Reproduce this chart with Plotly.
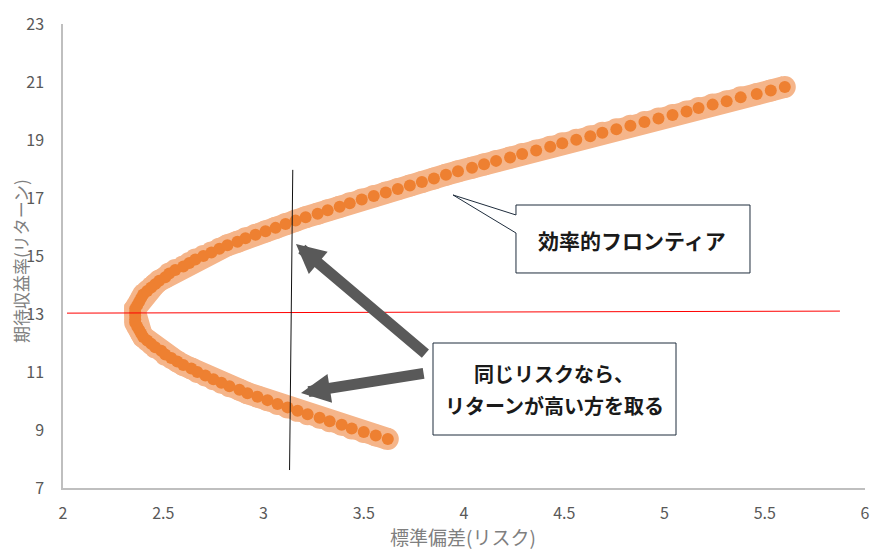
import plotly.graph_objects as go

# 効率的フロンティア（読み取り値）
risk = [3.62, 3.56, 3.50, 3.44, 3.39, 3.33, 3.28, 3.22, 3.17, 3.12,
        3.07, 3.02, 2.97, 2.92, 2.88, 2.83, 2.79, 2.75, 2.71, 2.67,
        2.64, 2.60, 2.57, 2.54, 2.51, 2.49, 2.46, 2.44, 2.42, 2.40,
        2.39, 2.38, 2.37, 2.36, 2.36, 2.36, 2.36, 2.36, 2.37, 2.38,
        2.39, 2.40, 2.42, 2.44, 2.46, 2.48, 2.51, 2.53, 2.56, 2.60,
        2.63, 2.66, 2.70, 2.74, 2.78, 2.82, 2.87, 2.91, 2.96, 3.01,
        3.06, 3.11, 3.16, 3.21, 3.27, 3.32, 3.38, 3.43, 3.49, 3.55,
        3.61, 3.67, 3.73, 3.79, 3.85, 3.91, 3.97, 4.04, 4.10, 4.16,
        4.23, 4.29, 4.36, 4.43, 4.49, 4.56, 4.63, 4.69, 4.76, 4.83,
        4.90, 4.97, 5.04, 5.11, 5.17, 5.24, 5.31, 5.38, 5.46, 5.53,
        5.60]
ret = [8.69, 8.81, 8.93, 9.05, 9.18, 9.30, 9.42, 9.54, 9.66, 9.78,
       9.90, 10.03, 10.15, 10.27, 10.39, 10.51, 10.63, 10.75, 10.88, 11.00,
       11.12, 11.24, 11.36, 11.48, 11.60, 11.73, 11.85, 11.97, 12.09, 12.21,
       12.33, 12.45, 12.57, 12.70, 12.82, 12.94, 13.06, 13.18, 13.30, 13.42,
       13.55, 13.67, 13.79, 13.91, 14.03, 14.15, 14.27, 14.40, 14.52, 14.64,
       14.76, 14.88, 15.00, 15.12, 15.25, 15.37, 15.49, 15.61, 15.73, 15.85,
       15.97, 16.10, 16.22, 16.34, 16.46, 16.58, 16.70, 16.82, 16.95, 17.07,
       17.19, 17.31, 17.43, 17.55, 17.67, 17.80, 17.92, 18.04, 18.16, 18.28,
       18.40, 18.52, 18.64, 18.77, 18.89, 19.01, 19.13, 19.25, 19.37, 19.49,
       19.62, 19.74, 19.86, 19.98, 20.10, 20.22, 20.34, 20.47, 20.59, 20.71,
       20.83]

# 補助線
hline_x = [2.02, 5.875]
hline_y = [13.03, 13.10]
vline_x = [3.146, 3.130]
vline_y = [17.97, 7.62]

# 矢印（先端, 根元）
arrow_tip = [(3.162, 15.41), (3.187, 10.28)]
arrow_tail = [(3.815, 11.59), (3.806, 10.96)]

JP = "Noto Sans CJK JP"
# ページ本文の余白8pxぶん小さくする
OFF = 8
W, H = 888 - OFF, 556 - OFF
L, R, T, B = 63 - OFF, 23, 24 - OFF, 68


def px(x, y):
    # 画面上のピクセル位置 -> paper座標
    x, y = x - OFF, y - OFF
    return (x - L) / (W - L - R), (H - B - y) / (H - T - B)


fig = go.Figure()

# 外側の薄いオレンジの帯
fig.add_trace(go.Scatter(x=risk, y=ret, mode="lines+markers",
                         line=dict(color="#F5B58A", width=22),
                         marker=dict(color="#F5B58A", size=22),
                         hoverinfo="skip", showlegend=False))
# 点
fig.add_trace(go.Scatter(x=risk, y=ret, mode="markers",
                         marker=dict(color="#EE8031", size=12),
                         showlegend=False))
fig.add_trace(go.Scatter(x=hline_x, y=hline_y, mode="lines",
                         line=dict(color="#FF0000", width=1), showlegend=False))
fig.add_trace(go.Scatter(x=vline_x, y=vline_y, mode="lines",
                         line=dict(color="#111111", width=1), showlegend=False))

for (tx, ty), (sx, sy) in zip(arrow_tip, arrow_tail):
    fig.add_annotation(x=tx, y=ty, ax=sx, ay=sy, xref="x", yref="y",
                       axref="x", ayref="y", text="", showarrow=True,
                       arrowhead=2, arrowwidth=11, arrowsize=0.53,
                       arrowcolor="#595959")

# 吹き出し
p = [px(*pt) for pt in [(516, 205), (750, 205), (750, 273), (516, 273),
                        (516, 233), (453, 195), (516, 215)]]
path = "M " + " L ".join(f"{a:.4f},{b:.4f}" for a, b in p) + " Z"
fig.add_shape(type="path", path=path, xref="paper", yref="paper",
              line=dict(color="#1F2D3D", width=1), fillcolor="white")
x0, y0 = px(433, 343)
x1, y1 = px(676, 435)
fig.add_shape(type="rect", x0=x0, y0=y0, x1=x1, y1=y1, xref="paper", yref="paper",
              line=dict(color="#1F2D3D", width=1), fillcolor="white")


def label(text, cx, cy, size, color, angle=0):
    ax_, ay_ = px(cx, cy)
    fig.add_annotation(x=ax_, y=ay_, xref="paper", yref="paper", text=text,
                       xanchor="center", yanchor="middle", showarrow=False,
                       borderpad=0, textangle=angle,
                       font=dict(family=JP, size=size, color=color))


label("<b>効率的フロンティア</b>", 632, 240, 21, "#1A1A1A")
label("<b>同じリスクなら、</b>", 554, 373, 20, "#1A1A1A")
label("<b>リターンが高い方を取る</b>", 554, 405, 20, "#1A1A1A")

# 軸タイトル
label("標準偏差(リスク)", 463, 536, 19, "#7F7F7F")
label("期待収益率(リターン)", 20, 261, 17, "#7F7F7F", angle=-90)

axis_style = dict(showgrid=False, zeroline=False, showline=True,
                  linecolor="#BFBFBF", linewidth=1.5, ticks="", automargin=False,
                  tickfont=dict(family=JP, size=16, color="#595959"))
fig.update_xaxes(range=[2, 6], dtick=0.5, tick0=2, ticklabelstandoff=10, **axis_style)
fig.update_yaxes(range=[7, 23], dtick=2, tick0=7, ticklabelstandoff=14, **axis_style)

fig.update_layout(width=W, height=H, margin=dict(l=L, r=R, t=T, b=B),
                  plot_bgcolor="white", paper_bgcolor="white",
                  font=dict(family=JP))

fig.write_html("out.html")
